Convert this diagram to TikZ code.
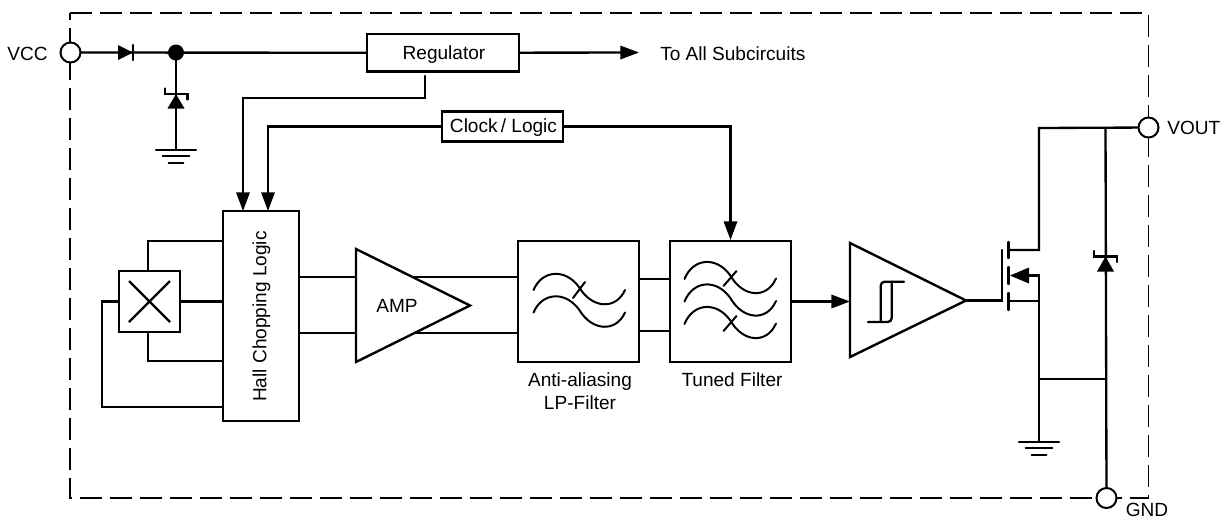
\documentclass[tikz,border=0pt]{standalone}
\usepackage{fontspec}
\setmainfont{Liberation Sans}
\usetikzlibrary{arrows.meta}
\tikzset{
  x=0.75pt,y=-0.75pt,
  wire/.style={line width=1.75pt,line cap=round,line join=miter},
  blockbox/.style={draw,line width=1.8pt,rectangle,inner sep=0pt,fill=white},
  pin/.style={draw,circle,line width=1.5pt,minimum size=15pt,inner sep=0pt,fill=white},
  label text/.style={inner sep=0pt,font=\fontsize{14.3}{17}\selectfont,align=center},
  arrowed/.style={wire,-{Triangle[length=14pt,width=10pt]}},
  solid tip/.style={fill=black,draw=none},
}
\newcommand{\gnd}[1]{%
  \draw[wire] ([xshift=-15pt]#1) -- ([xshift=15pt]#1);
  \draw[wire] ([xshift=-10pt,yshift=-4.6pt]#1) -- ([xshift=10pt,yshift=-4.6pt]#1);
  \draw[wire] ([xshift=-5.5pt,yshift=-9.5pt]#1) -- ([xshift=5.5pt,yshift=-9.5pt]#1);
}
\begin{document}
\begin{tikzpicture}
\useasboundingbox (0,0) rectangle (1226,519);
% dashed package outline
\draw[line width=1.2pt,dash pattern=on 16.5pt off 6pt] (70,13) -- (1148.5,13) -- (1148.5,498) -- (70,498) -- cycle;
% pins
\node[pin] (vcc) at (70.5,52.5) {};
\node[pin] (vout) at (1148.5,127.5) {};
\node[pin] (gnd) at (1106.5,498) {};
\node[label text,anchor=east] (vcclabel) at (48,54) {VCC};
\node[label text,anchor=west] (voutlabel) at (1167,128) {VOUT};
\node[label text] (gndlabel) at (1147,509.5) {GND};
% blocks
\node[blockbox,minimum width=114pt,minimum height=28pt] (reg) at (443,52.8) {};
\node[label text] at (444,54.5) {Regulator};
\node[blockbox,minimum width=90.5pt,minimum height=22.5pt] (clk) at (502.5,126.5) {};
\node[label text] at (503.5,127.5) {Clock\,/ Logic};
\node[blockbox,minimum width=57pt,minimum height=157.5pt] (hall) at (261,316) {};
\node[label text,rotate=90] at (261.5,316.5) {Hall Chopping Logic};
\node[blockbox,minimum width=45.5pt,minimum height=45.5pt] (sensor) at (149.5,301.5) {};
\node[blockbox,minimum width=90.5pt,minimum height=90.5pt] (lpf) at (578.5,301.5) {};
\node[blockbox,minimum width=90.5pt,minimum height=90.5pt] (tuned) at (730.5,301.5) {};
\node[label text,anchor=north] (lpflabel) at (580,372.5) {Anti-aliasing\\LP-Filter};
\node[label text,anchor=north] (tunedlabel) at (732,372.5) {Tuned Filter};
% junctions and triangles
\coordinate (j) at (176,52.5);
\coordinate (amp1) at (356,249); \coordinate (amp2) at (356,362); \coordinate (amp3) at (470,305.5);
\coordinate (cmp1) at (850,243); \coordinate (cmp2) at (850,357); \coordinate (cmpo) at (966,300.5);
\coordinate (vs) at (1039,128);
\coordinate (g2) at (1039,442);
\coordinate (g1) at (176,150);
\coordinate (rails) at (1105.5,128);
\coordinate (tap) at (1105.5,379);
% supply rail
\draw[wire] (vcc) -- (reg);
\draw[solid tip] (118,45) -- (133,52.5) -- (118,60) -- cycle;
\draw[wire] (133,45) -- (133,60);
\fill (j) circle (6pt);
\draw[wire] (j) -- (g1);
\draw[solid tip] (176,94) -- (184.5,108.5) -- (167.5,108.5) -- cycle;
\draw[wire] (165,88.5) -- (165,94) -- (187.5,94) -- (187.5,99.5);
\gnd{g1}
\draw[arrowed] (reg) -- (639,52.5) coordinate (tosub);
\node[label text,anchor=west] (sublabel) at (660,54) {To All Subcircuits};
% regulator and clock to blocks
\draw[arrowed] ([xshift=-13.5pt,yshift=-2.5pt]reg.south) -- (425,98) -- (243,98) -- (243,211);
\draw[arrowed] (clk.west) -- (268,126.5) -- (268,211);
\draw[arrowed] (clk.east) -- (730.5,126.5) -- (tuned.north);
% sensor connections
\draw[wire] (148,271) -- (148,241) -- (223,241);
\draw[wire] (sensor.east) -- (hall.west |- sensor.east);
\draw[wire] (148,332) -- (148,361) -- (223,361);
\draw[wire] (sensor.west) -- (102,301.5) -- (102,407) -- (223,407);
\draw[wire,line cap=butt] (129,281) -- (170,322) (170,281) -- (129,322);
% hall to amp to filter
\draw[wire] (299,277) -- (518,277);
\draw[wire] (299,333) -- (518,333);
\draw[blockbox] (amp1) -- (amp3) -- (amp2) -- cycle;
\node[label text] (amplabel) at (397,305.5) {AMP};
\node[blockbox,minimum width=90.5pt,minimum height=90.5pt] at (lpf) {};
\draw[wire] (639,279) -- (670,279);
\draw[wire] (639,331) -- (670,331);
% filter curves
\tikzset{filt/.style={line width=1.5pt,line cap=round}}
\foreach \d in {0,22.5}
  \draw[filt] (533.5,290+\d) .. controls (542,270+\d) and (565,268+\d) .. (579,287+\d) .. controls (592,309+\d) and (616,310+\d) .. (625,290+\d);
\draw[filt] (573,298) -- (585,282);
\foreach \d in {0,22.5,45}
  \draw[filt] (684.5,279+\d) .. controls (693,258+\d) and (716,256+\d) .. (730,275+\d) .. controls (743,298+\d) and (767,299+\d) .. (776,278.5+\d);
\draw[filt] (723.5,286) -- (736.5,271);
\draw[filt] (723.5,331) -- (736.5,316);
% comparator
\draw[arrowed] (tuned.east) -- (cmp1 |- tuned.east);
\draw[blockbox] (cmp1) -- (cmpo) -- (cmp2) -- cycle;
\draw[wire,rounded corners=3pt] (868,322) -- (891.7,322) -- (891.7,281.7);
\draw[wire,rounded corners=3pt] (904,281.7) -- (880.7,281.7) -- (880.7,322);
% MOSFET
\draw[wire] (cmpo) -- (1002,300.5) -- (1002,250);
\draw[wire] (1008.5,242) -- (1008.5,258) (1008.5,267) -- (1008.5,284) (1008.5,293) -- (1008.5,310);
\draw[wire] (1008.5,250) -- (1039,250) -- (vs) -- (vout);
\draw[wire] (1008.5,301) -- (1039,301);
\draw[wire] (1025,275.5) -- (1039,275.5) -- (g2);
\draw[solid tip] (1010,275.5) -- (1029,267.5) -- (1029,283.5) -- cycle;
\gnd{g2}
\draw[wire] (1039,379) -- (tap);
\draw[wire] (rails) -- (gnd);
\draw[solid tip] (1105.5,256.5) -- (1114,271.5) -- (1097,271.5) -- cycle;
\draw[wire] (1094,251) -- (1094,256.5) -- (1117,256.5) -- (1117,262);
\end{tikzpicture}
\end{document}
